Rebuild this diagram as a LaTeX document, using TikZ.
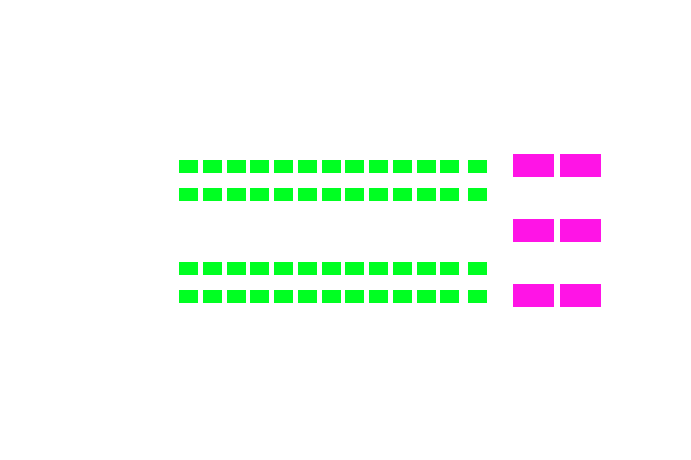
\documentclass[tikz,border=0pt]{standalone}
\definecolor{cellgreen}{RGB}{0,255,34}
\definecolor{cellmag}{RGB}{255,20,230}
\begin{document}
\begin{tikzpicture}[x=1pt,y=-1pt,
  gcell/.style={rectangle,fill=cellgreen,inner sep=0pt,minimum width=19pt,minimum height=13pt,anchor=north west},
  mcell/.style={rectangle,fill=cellmag,inner sep=0pt,minimum width=41pt,minimum height=23pt,anchor=north west}]
\useasboundingbox (0,0) rectangle (691,460);
\foreach \r/\y in {1/160,2/188,3/262,4/290}{
  \foreach \i in {0,...,11}{
    \node[gcell] (g\r-\i) at ({179+23.75*\i},\y) {};
  }
  \node[gcell] (g\r-12) at (468,\y) {};
}
\foreach \r/\y in {1/154,2/219,3/284}{
  \node[mcell] (m\r-a) at (513,\y) {};
  \node[mcell] (m\r-b) at (560,\y) {};
}
\end{tikzpicture}
\end{document}
